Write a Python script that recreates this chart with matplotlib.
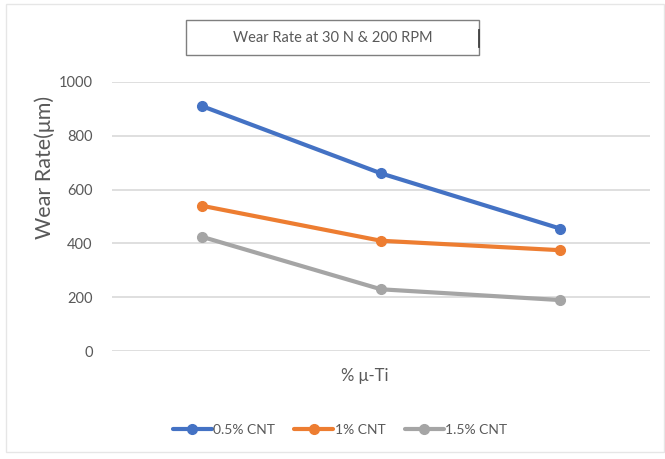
import matplotlib
matplotlib.use("Agg")
import matplotlib.pyplot as plt
from matplotlib.patches import Rectangle
from matplotlib.lines import Line2D

plt.rcParams['font.family'] = ['Lato', 'DejaVu Sans']

# data
categories = ['1', '2', '3']
cnt_05 = [910, 660, 455]
cnt_1 = [540, 410, 375]
cnt_15 = [425, 230, 190]
labels = ['0.5% CNT', '1% CNT', '1.5% CNT']
colors = ['#4472C4', '#ED7D31', '#A5A5A5']
txt = '#595959'

W, H = 665, 459
fig = plt.figure(figsize=(W / 100, H / 100), dpi=100)

# axes area in pixel coords
left, right, top, bottom = 112, 650, 81.7, 351.3
ax = fig.add_axes([left / W, 1 - bottom / H, (right - left) / W, (bottom - top) / H])

x = range(len(categories))
for ys, lab, c in zip([cnt_05, cnt_1, cnt_15], labels, colors):
    ax.plot(x, ys, color=c, lw=3, marker='o', ms=7, label=lab,
            solid_capstyle='round', clip_on=False, zorder=3)

ax.set_xlim(-0.5, 2.5)
ax.set_ylim(0, 1000)
ax.set_yticks(range(0, 1001, 200))
ax.set_xticks([])
ax.grid(axis='y', color='#D9D9D9', lw=1.2)
ax.set_axisbelow(True)
for s in ax.spines.values():
    s.set_visible(False)
ax.tick_params(axis='y', length=0, pad=14, labelsize=10.5, labelcolor=txt)

fig.text(45 / W, 1 - 167 / H, 'Wear Rate(μm)', rotation=90, ha='center', va='center',
         fontsize=15.5, color=txt)
fig.text(365 / W, 1 - 376 / H, '% μ-Ti', ha='center', va='center', fontsize=12, color=txt)

# title box
fig.patches.append(Rectangle((186 / W, 1 - 55 / H), (479 - 186) / W, 35 / H,
                             transform=fig.transFigure, fill=False,
                             edgecolor='#7F7F7F', lw=1))
fig.lines.append(Line2D([479 / W, 479 / W], [1 - 30 / H, 1 - 47 / H],
                        transform=fig.transFigure, color='#404040', lw=1.3))
fig.text(333 / W, 1 - 37.5 / H, 'Wear Rate at 30 N & 200 RPM', ha='center', va='center',
         fontsize=10.5, color=txt)

# faint chart border
fig.patches.append(Rectangle((6 / W, 1 - 452 / H), (664 - 6) / W, (452 - 4) / H,
                             transform=fig.transFigure, fill=False,
                             edgecolor='#E6E6E6', lw=1))

leg = fig.legend(loc='center', bbox_to_anchor=(340 / W, 1 - 430 / H), ncol=3,
                 frameon=False, fontsize=10, handlelength=2.8, handletextpad=0.1,
                 columnspacing=1.4, labelcolor=txt)

fig.savefig('out.png', dpi=100)
